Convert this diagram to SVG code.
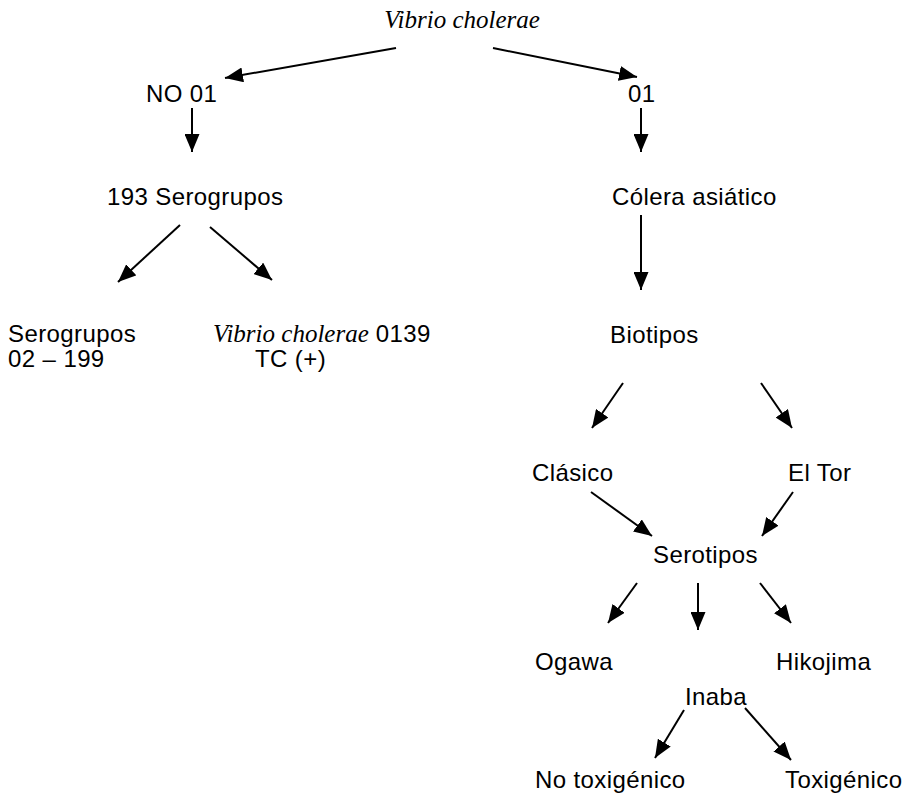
<svg xmlns="http://www.w3.org/2000/svg" width="912" height="798" viewBox="0 0 912 798">
<style>
.t{font-family:"Liberation Sans",Arial,sans-serif;font-size:24px;letter-spacing:0.4px;fill:#000}
.i{font-family:"Liberation Serif","Times New Roman",serif;font-style:italic;font-size:25px;fill:#000}
.c line{stroke:#000;stroke-width:2;marker-end:url(#ah)}
</style>
<defs>
<marker id="ah" viewBox="0 0 18 15" refX="18" refY="7.5" markerWidth="18" markerHeight="15" markerUnits="userSpaceOnUse" orient="auto">
<path d="M0,0 L18,7.5 L0,15 Z" fill="#000"/>
</marker>
</defs>
<rect width="912" height="798" fill="#fff"/>
<g class="c" id="connectors">
<line x1="396" y1="48" x2="225" y2="78"/>
<line x1="493" y1="48" x2="637" y2="77"/>
<line x1="192" y1="108" x2="192" y2="152"/>
<line x1="641" y1="108" x2="641" y2="152"/>
<line x1="180" y1="225" x2="118" y2="282"/>
<line x1="210" y1="227" x2="272" y2="280"/>
<line x1="641" y1="215" x2="641" y2="290"/>
<line x1="623" y1="383" x2="592" y2="428"/>
<line x1="761" y1="383" x2="792" y2="428"/>
<line x1="591" y1="492" x2="652" y2="536"/>
<line x1="793" y1="492" x2="762" y2="536"/>
<line x1="637" y1="583" x2="608" y2="623"/>
<line x1="698" y1="583" x2="698" y2="630"/>
<line x1="760" y1="583" x2="791" y2="623"/>
<line x1="684" y1="710" x2="655" y2="758"/>
<line x1="745" y1="708" x2="791" y2="760"/>
</g>
<g id="vibrio"><text class="i" x="462" y="28" text-anchor="middle" font-size="26">Vibrio cholerae</text></g>
<g id="no01"><text class="t" x="146" y="102">NO 01</text></g>
<g id="o1"><text class="t" x="628" y="102">01</text></g>
<g id="sero193"><text class="t" x="107" y="205">193 Serogrupos</text></g>
<g id="colera"><text class="t" x="612" y="205">Cólera asiático</text></g>
<g id="serogrupos"><text class="t" x="8" y="342">Serogrupos</text><text class="t" x="8" y="367">02 – 199</text></g>
<g id="v0139"><text x="213" y="342"><tspan class="i">Vibrio cholerae</tspan><tspan class="t"> 0139</tspan></text><text class="t" x="255" y="367">TC (+)</text></g>
<g id="biotipos"><text class="t" x="610" y="343">Biotipos</text></g>
<g id="clasico"><text class="t" x="532" y="481">Clásico</text></g>
<g id="eltor"><text class="t" x="788" y="481">El Tor</text></g>
<g id="serotipos"><text class="t" x="653" y="563">Serotipos</text></g>
<g id="ogawa"><text class="t" x="535" y="670">Ogawa</text></g>
<g id="hikojima"><text class="t" x="776" y="670">Hikojima</text></g>
<g id="inaba"><text class="t" x="685" y="705">Inaba</text></g>
<g id="notox"><text class="t" x="535" y="788">No toxigénico</text></g>
<g id="tox"><text class="t" x="785" y="788">Toxigénico</text></g>
</svg>
